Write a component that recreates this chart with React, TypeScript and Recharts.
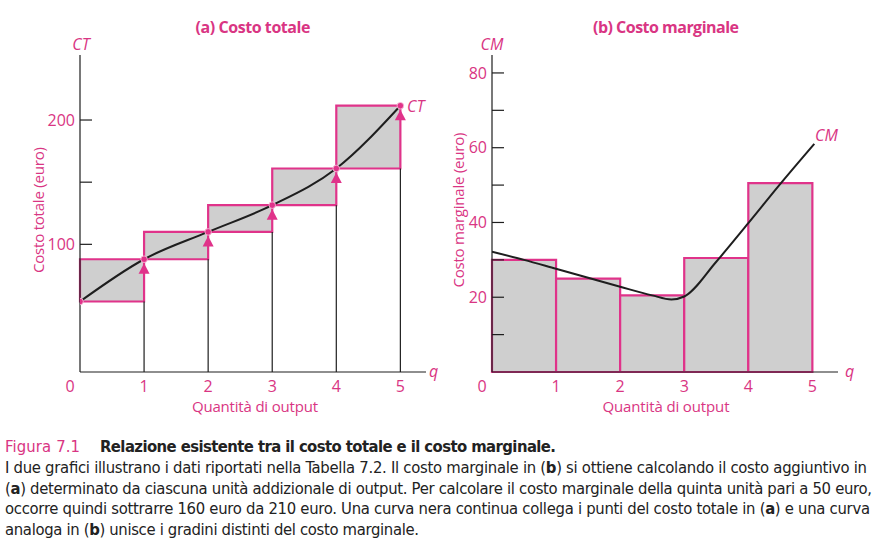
import React from 'react';
import {
  ComposedChart, Line, Scatter, XAxis, YAxis, ReferenceArea, ReferenceLine,
} from 'recharts';

// quantities and values
const QTY = [0, 1, 2, 3, 4, 5];
const CT_VALUES = [54, 88, 110, 131.5, 161, 211.5];
const MC_STEPS = [30, 25, 20.5, 30.5, 50.5];
const MC_CURVE_Q = [0, 0.5, 1, 1.5, 2, 2.5, 2.8, 3, 3.5, 4, 4.5, 5.03];
const MC_CURVE_V = [32.2, 30, 27.6, 25.2, 22.8, 20.5, 19.4, 20.2, 29.5, 39.8, 50.3, 61];
const X_TICKS = [0, 1, 2, 3, 4, 5];
const CT_TICKS = [100, 150, 200];
const CT_TICK_LABELS = [100, 200];
const MC_TICKS = [10, 20, 30, 40, 50, 60, 70, 80];
const MC_TICK_LABELS = [20, 40, 60, 80];

const PINK = '#e0338a';
const PINK_TEXT = '#d93583';
const GREY = '#cfcfcf';
const INK = '#1e1e1e';
const FONT = '"Open Sans", sans-serif';
const NARROW = '"Liberation Sans Narrow", "DejaVu Sans Condensed", sans-serif';

const ctData = QTY.map((q, i) => ({ q, ct: CT_VALUES[i] }));
const arrowData = ctData.slice(1);
const mcCurve = MC_CURVE_Q.map((q, i) => ({ q, mc: MC_CURVE_V[i] }));

const makeYTick = (labels: number[]) => (props: any) => {
  const { x, y, payload } = props;
  return (
    <g>
      <line x1={x} x2={x + 12} y1={y} y2={y} stroke={INK} strokeWidth={1.2} />
      {labels.includes(payload.value) && (
        <text x={x - 5} y={y} dy="0.36em" textAnchor="end" fill={PINK_TEXT} fontSize={16} fontFamily={FONT}>
          {payload.value}
        </text>
      )}
    </g>
  );
};

const XTick = (props: any) => {
  const { x, y, payload } = props;
  return (
    <text x={payload.value === 0 ? x - 10 : x} y={y + 20} textAnchor="middle" fill={PINK_TEXT} fontSize={16} fontFamily={FONT}>
      {payload.value}
    </text>
  );
};

const Dot = (props: any) => (
  <circle cx={props.cx} cy={props.cy} r={3.3} fill={PINK} stroke="#f7c6dd" strokeWidth={0.8} />
);

const Arrow = (props: any) => {
  const { cx, cy } = props;
  return <polygon points={`${cx},${cy + 4} ${cx - 5.5},${cy + 14.5} ${cx + 5.5},${cy + 14.5}`} fill={PINK} />;
};

function TotalCost() {
  return (
    <ComposedChart width={440} height={420} data={ctData} margin={{ top: 55, right: 14, bottom: 18, left: 20 }}>
      <XAxis
        dataKey="q" type="number" domain={[0, 5.4]} ticks={X_TICKS} allowDataOverflow
        height={30} tickLine={false} tickSize={0} tickMargin={0} tick={XTick}
        axisLine={{ stroke: INK, strokeWidth: 1.2 }}
      />
      <YAxis
        type="number" domain={[-2.7, 252.3]} ticks={CT_TICKS} allowDataOverflow
        width={60} tickLine={false} tickSize={0} tickMargin={0} tick={makeYTick(CT_TICK_LABELS)}
        axisLine={{ stroke: INK, strokeWidth: 1.2 }}
      />
      {CT_VALUES.slice(0, -1).map((v, i) => (
        <ReferenceArea
          key={`box${i}`} x1={QTY[i]} x2={QTY[i + 1]} y1={v} y2={CT_VALUES[i + 1]}
          fill={GREY} fillOpacity={1} stroke={PINK} strokeWidth={2.2}
        />
      ))}
      {CT_VALUES.slice(0, -1).map((v, i) => (
        <ReferenceLine
          key={`stem${i}`} segment={[{ x: QTY[i + 1], y: -2.7 }, { x: QTY[i + 1], y: v }]}
          stroke={INK} strokeWidth={1.2}
        />
      ))}
      <Line dataKey="ct" type="monotone" stroke={INK} strokeWidth={2} dot={false} isAnimationActive={false} />
      <Scatter data={arrowData} dataKey="ct" shape={Arrow} isAnimationActive={false} />
      <Scatter data={ctData} dataKey="ct" shape={Dot} isAnimationActive={false} />
    </ComposedChart>
  );
}

function MarginalCost() {
  return (
    <ComposedChart width={437} height={420} margin={{ top: 55, right: 39, bottom: 18, left: 12 }}>
      <XAxis
        dataKey="q" type="number" domain={[0, 5.4]} ticks={X_TICKS} allowDataOverflow
        height={30} tickLine={false} tickSize={0} tickMargin={0} tick={XTick}
        axisLine={{ stroke: INK, strokeWidth: 1.2 }}
      />
      <YAxis
        type="number" domain={[0, 84.8]} ticks={MC_TICKS} allowDataOverflow
        width={40} tickLine={false} tickSize={0} tickMargin={0} tick={makeYTick(MC_TICK_LABELS)}
        axisLine={{ stroke: INK, strokeWidth: 1.2 }}
      />
      {MC_STEPS.map((v, i) => (
        <ReferenceArea
          key={`bar${i}`} x1={QTY[i]} x2={QTY[i + 1]} y1={0} y2={v}
          fill={GREY} fillOpacity={1} stroke={PINK} strokeWidth={2.2}
        />
      ))}
      <Line data={mcCurve} dataKey="mc" type="monotone" stroke={INK} strokeWidth={2} dot={false} isAnimationActive={false} />
    </ComposedChart>
  );
}

const CAPTION = [
  'I due grafici illustrano i dati riportati nella Tabella 7.2. Il costo marginale in (b) si ottiene calcolando il costo aggiuntivo in',
  '(a) determinato da ciascuna unità addizionale di output. Per calcolare il costo marginale della quinta unità pari a 50 euro,',
  'occorre quindi sottrarre 160 euro da 210 euro. Una curva nera continua collega i punti del costo totale in (a) e una curva',
  'analoga in (b) unisce i gradini distinti del costo marginale.',
];
const CAPTION_WIDTHS = [862, 867, 865, 414];

// bolds the (a)/(b) markers inside the caption
function captionSpans(line: string) {
  return line.split(/(\((?:a|b)\))/).map((part, i) => {
    const m = part.match(/^\((a|b)\)$/);
    if (!m) return <tspan key={i}>{part}</tspan>;
    return (
      <tspan key={i}>(<tspan fontWeight="bold">{m[1]}</tspan>)</tspan>
    );
  });
}

export default function App() {
  const t = { fill: PINK_TEXT, fontFamily: FONT };
  return (
    <div style={{ position: 'absolute', left: 0, top: 0, width: 877, height: 538, background: '#fff' }}>
      <div style={{ position: 'absolute', left: 0, top: 0 }}><TotalCost /></div>
      <div style={{ position: 'absolute', left: 440, top: 0 }}><MarginalCost /></div>
      <svg width={877} height={538} style={{ position: 'absolute', left: 0, top: 0, pointerEvents: 'none' }}>
        <text x={253} y={33} textAnchor="middle" fontSize={16} fontWeight="bold" textLength={115} {...t}>(a) Costo totale</text>
        <text x={666} y={33} textAnchor="middle" fontSize={16} fontWeight="bold" textLength={146} {...t}>(b) Costo marginale</text>

        <text x={81} y={50} textAnchor="middle" fontSize={16} fontStyle="italic" {...t}>CT</text>
        <text x={492} y={50} textAnchor="middle" fontSize={16} fontStyle="italic" {...t}>CM</text>
        <text x={407} y={112} fontSize={16} fontStyle="italic" {...t}>CT</text>
        <text x={815} y={141} fontSize={16} fontStyle="italic" {...t}>CM</text>
        <text x={429} y={377} fontSize={16} fontStyle="italic" {...t}>q</text>
        <text x={845} y={377} fontSize={16} fontStyle="italic" {...t}>q</text>

        <text x={255} y={412} textAnchor="middle" fontSize={15} textLength={126} {...t}>Quantità di output</text>
        <text x={666} y={412} textAnchor="middle" fontSize={15} textLength={127} {...t}>Quantità di output</text>
        <text transform="translate(44,210) rotate(-90)" textAnchor="middle" fontSize={15} textLength={126} {...t}>Costo totale (euro)</text>
        <text transform="translate(464,210) rotate(-90)" textAnchor="middle" fontSize={15} textLength={155} {...t}>Costo marginale (euro)</text>

        <text x={5} y={452} fontSize={16.5} fontFamily={NARROW} fill={PINK_TEXT} textLength={75}>Figura 7.1</text>
        <text x={100} y={452} fontSize={16.5} fontFamily={NARROW} fontWeight="bold" fill="#222" textLength={456}>
          Relazione esistente tra il costo totale e il costo marginale.
        </text>
        {CAPTION.map((line, i) => (
          <text key={i} x={5} y={473 + i * 20.5} fontSize={16.5} fontFamily={NARROW} fill="#222" textLength={CAPTION_WIDTHS[i]}>
            {captionSpans(line)}
          </text>
        ))}
      </svg>
    </div>
  );
}
